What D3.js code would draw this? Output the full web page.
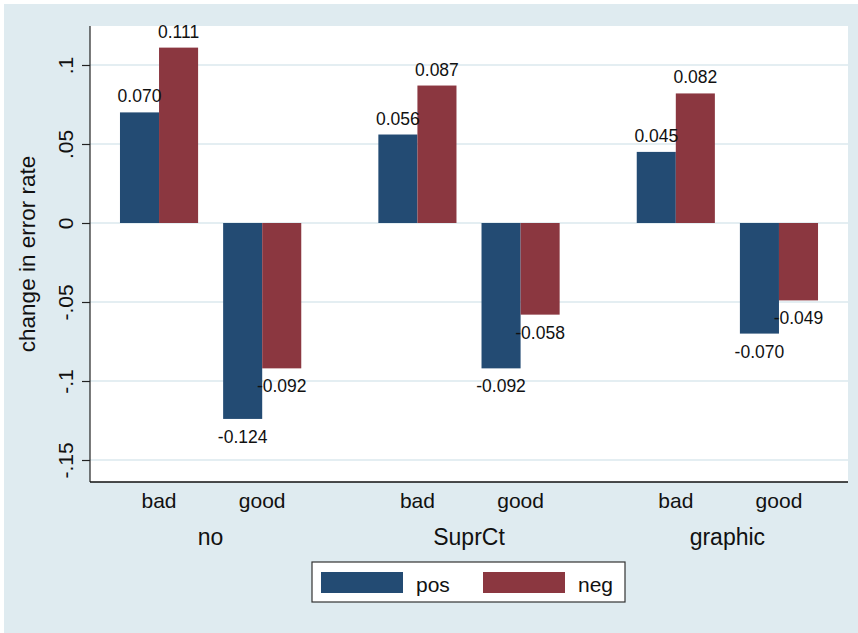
<!DOCTYPE html>
<html>
<head>
<meta charset="utf-8">
<script src="https://cdn.jsdelivr.net/npm/d3@7"></script>
<style>
  html, body { margin: 0; padding: 0; background: #ffffff; }
  svg { display: block; font-family: "Liberation Sans", Arial, Helvetica, sans-serif; }
</style>
</head>
<body>
<svg id="chart" width="858" height="633"></svg>
<script>
const outerGroups = ["no", "SuprCt", "graphic"];
const innerGroups = ["bad", "good"];
const seriesNames = ["pos", "neg"];
const posValues = [0.070, -0.124, 0.056, -0.092, 0.045, -0.070];
const negValues = [0.111, -0.092, 0.087, -0.058, 0.082, -0.049];
const yTicks = [0.1, 0.05, 0, -0.05, -0.1, -0.15];
const yTickLabels = [".1", ".05", "0", "-.05", "-.1", "-.15"];
const yTitle = "change in error rate";

const colors = { pos: "#234b73", neg: "#8b3740" };
const bg = "#dfebf0";
const gridColor = "#dbe8ee";

const W = 858, H = 633;
const plot = { left: 90, right: 848, top: 26, bottom: 482 };

const svg = d3.select("#chart");

// outer background
svg.append("rect").attr("x", 4).attr("y", 4).attr("width", W - 4).attr("height", H - 4).attr("fill", bg);
// plot region
svg.append("rect").attr("x", plot.left).attr("y", plot.top)
  .attr("width", plot.right - plot.left).attr("height", plot.bottom - plot.top).attr("fill", "#ffffff");

// data table
const data = [];
outerGroups.forEach((o, i) => {
  innerGroups.forEach((g, j) => {
    const k = i * innerGroups.length + j;
    data.push({ outer: o, inner: g, series: "pos", value: posValues[k] });
    data.push({ outer: o, inner: g, series: "neg", value: negValues[k] });
  });
});

const y = d3.scaleLinear().domain([-0.16392, 0.12468]).range([plot.bottom, plot.top]);
const xOuter = d3.scaleBand().domain(outerGroups).range([plot.left, plot.right])
  .paddingInner(0.2984).paddingOuter(0.116);
const xInner = d3.scaleBand().domain(innerGroups).range([0, xOuter.bandwidth()])
  .paddingInner(0.2427).paddingOuter(0);
const xSeries = d3.scaleBand().domain(seriesNames).range([0, xInner.bandwidth()]).padding(0);

// gridlines
svg.append("g").selectAll("line").data(yTicks).join("line")
  .attr("x1", plot.left).attr("x2", plot.right)
  .attr("y1", d => y(d)).attr("y2", d => y(d))
  .attr("stroke", gridColor).attr("stroke-width", 1.6);

// bars
const xPos = d => xOuter(d.outer) + xInner(d.inner) + xSeries(d.series);
svg.append("g").selectAll("rect").data(data).join("rect")
  .attr("x", xPos)
  .attr("width", xSeries.bandwidth())
  .attr("y", d => Math.min(y(d.value), y(0)))
  .attr("height", d => Math.abs(y(d.value) - y(0)))
  .attr("fill", d => colors[d.series]);

// value labels
svg.append("g").selectAll("text").data(data).join("text")
  .attr("x", d => xPos(d) + xSeries.bandwidth() / 2)
  .attr("y", d => d.value >= 0 ? y(d.value) - 10 : y(d.value) + 24)
  .attr("text-anchor", "middle")
  .attr("font-size", 17.5)
  .attr("fill", "#111")
  .text(d => d3.format(".3f")(d.value).replace("−", "-"));

// y axis
const yAxis = d3.axisLeft(y).tickValues(yTicks).tickSize(8).tickPadding(0)
  .tickFormat((d, i) => yTickLabels[i]);
const gy = svg.append("g").attr("transform", `translate(${plot.left},0)`).call(yAxis);
gy.select(".domain").attr("stroke", "#222").attr("stroke-width", 1.2)
  .attr("d", `M0,${plot.top}V${plot.bottom}`);
gy.selectAll(".tick line").attr("stroke", "#222").attr("stroke-width", 1.2);
gy.selectAll(".tick text")
  .attr("font-size", 21)
  .attr("fill", "#111")
  .attr("font-family", "Liberation Sans, Arial, sans-serif")
  .attr("text-anchor", "middle")
  .attr("dy", 0)
  .attr("x", 0)
  .attr("transform", "translate(-17,0) rotate(-90)");

// bottom axis line
svg.append("line").attr("x1", plot.left).attr("x2", plot.right)
  .attr("y1", plot.bottom).attr("y2", plot.bottom)
  .attr("stroke", "#111").attr("stroke-width", 1.5);

// y title
svg.append("text")
  .attr("transform", `translate(35,${(plot.top + plot.bottom) / 2}) rotate(-90)`)
  .attr("text-anchor", "middle").attr("font-size", 22.5).attr("fill", "#111")
  .text(yTitle);

// inner category labels
const innerLabelData = [];
outerGroups.forEach(o => innerGroups.forEach(g => innerLabelData.push({ outer: o, inner: g })));
svg.append("g").selectAll("text").data(innerLabelData).join("text")
  .attr("x", d => xOuter(d.outer) + xInner(d.inner) + xInner.bandwidth() / 2)
  .attr("y", 508)
  .attr("text-anchor", "middle").attr("font-size", 21).attr("fill", "#111")
  .text(d => d.inner);

// outer labels
svg.append("g").selectAll("text").data(outerGroups).join("text")
  .attr("x", d => xOuter(d) + xOuter.bandwidth() / 2)
  .attr("y", 545)
  .attr("text-anchor", "middle").attr("font-size", 23).attr("fill", "#111")
  .text(d => d);

// legend
const lg = svg.append("g");
lg.append("rect").attr("x", 312).attr("y", 562).attr("width", 313).attr("height", 40)
  .attr("fill", "#fff").attr("stroke", "#333").attr("stroke-width", 1.2);
const legX = { pos: 321, neg: 483 };
seriesNames.forEach(s => {
  lg.append("rect").attr("x", legX[s]).attr("y", 572).attr("width", 82).attr("height", 21)
    .attr("fill", colors[s]);
  lg.append("text").attr("x", legX[s] + 95).attr("y", 592)
    .attr("font-size", 21).attr("fill", "#111").text(s);
});
</script>
</body>
</html>
